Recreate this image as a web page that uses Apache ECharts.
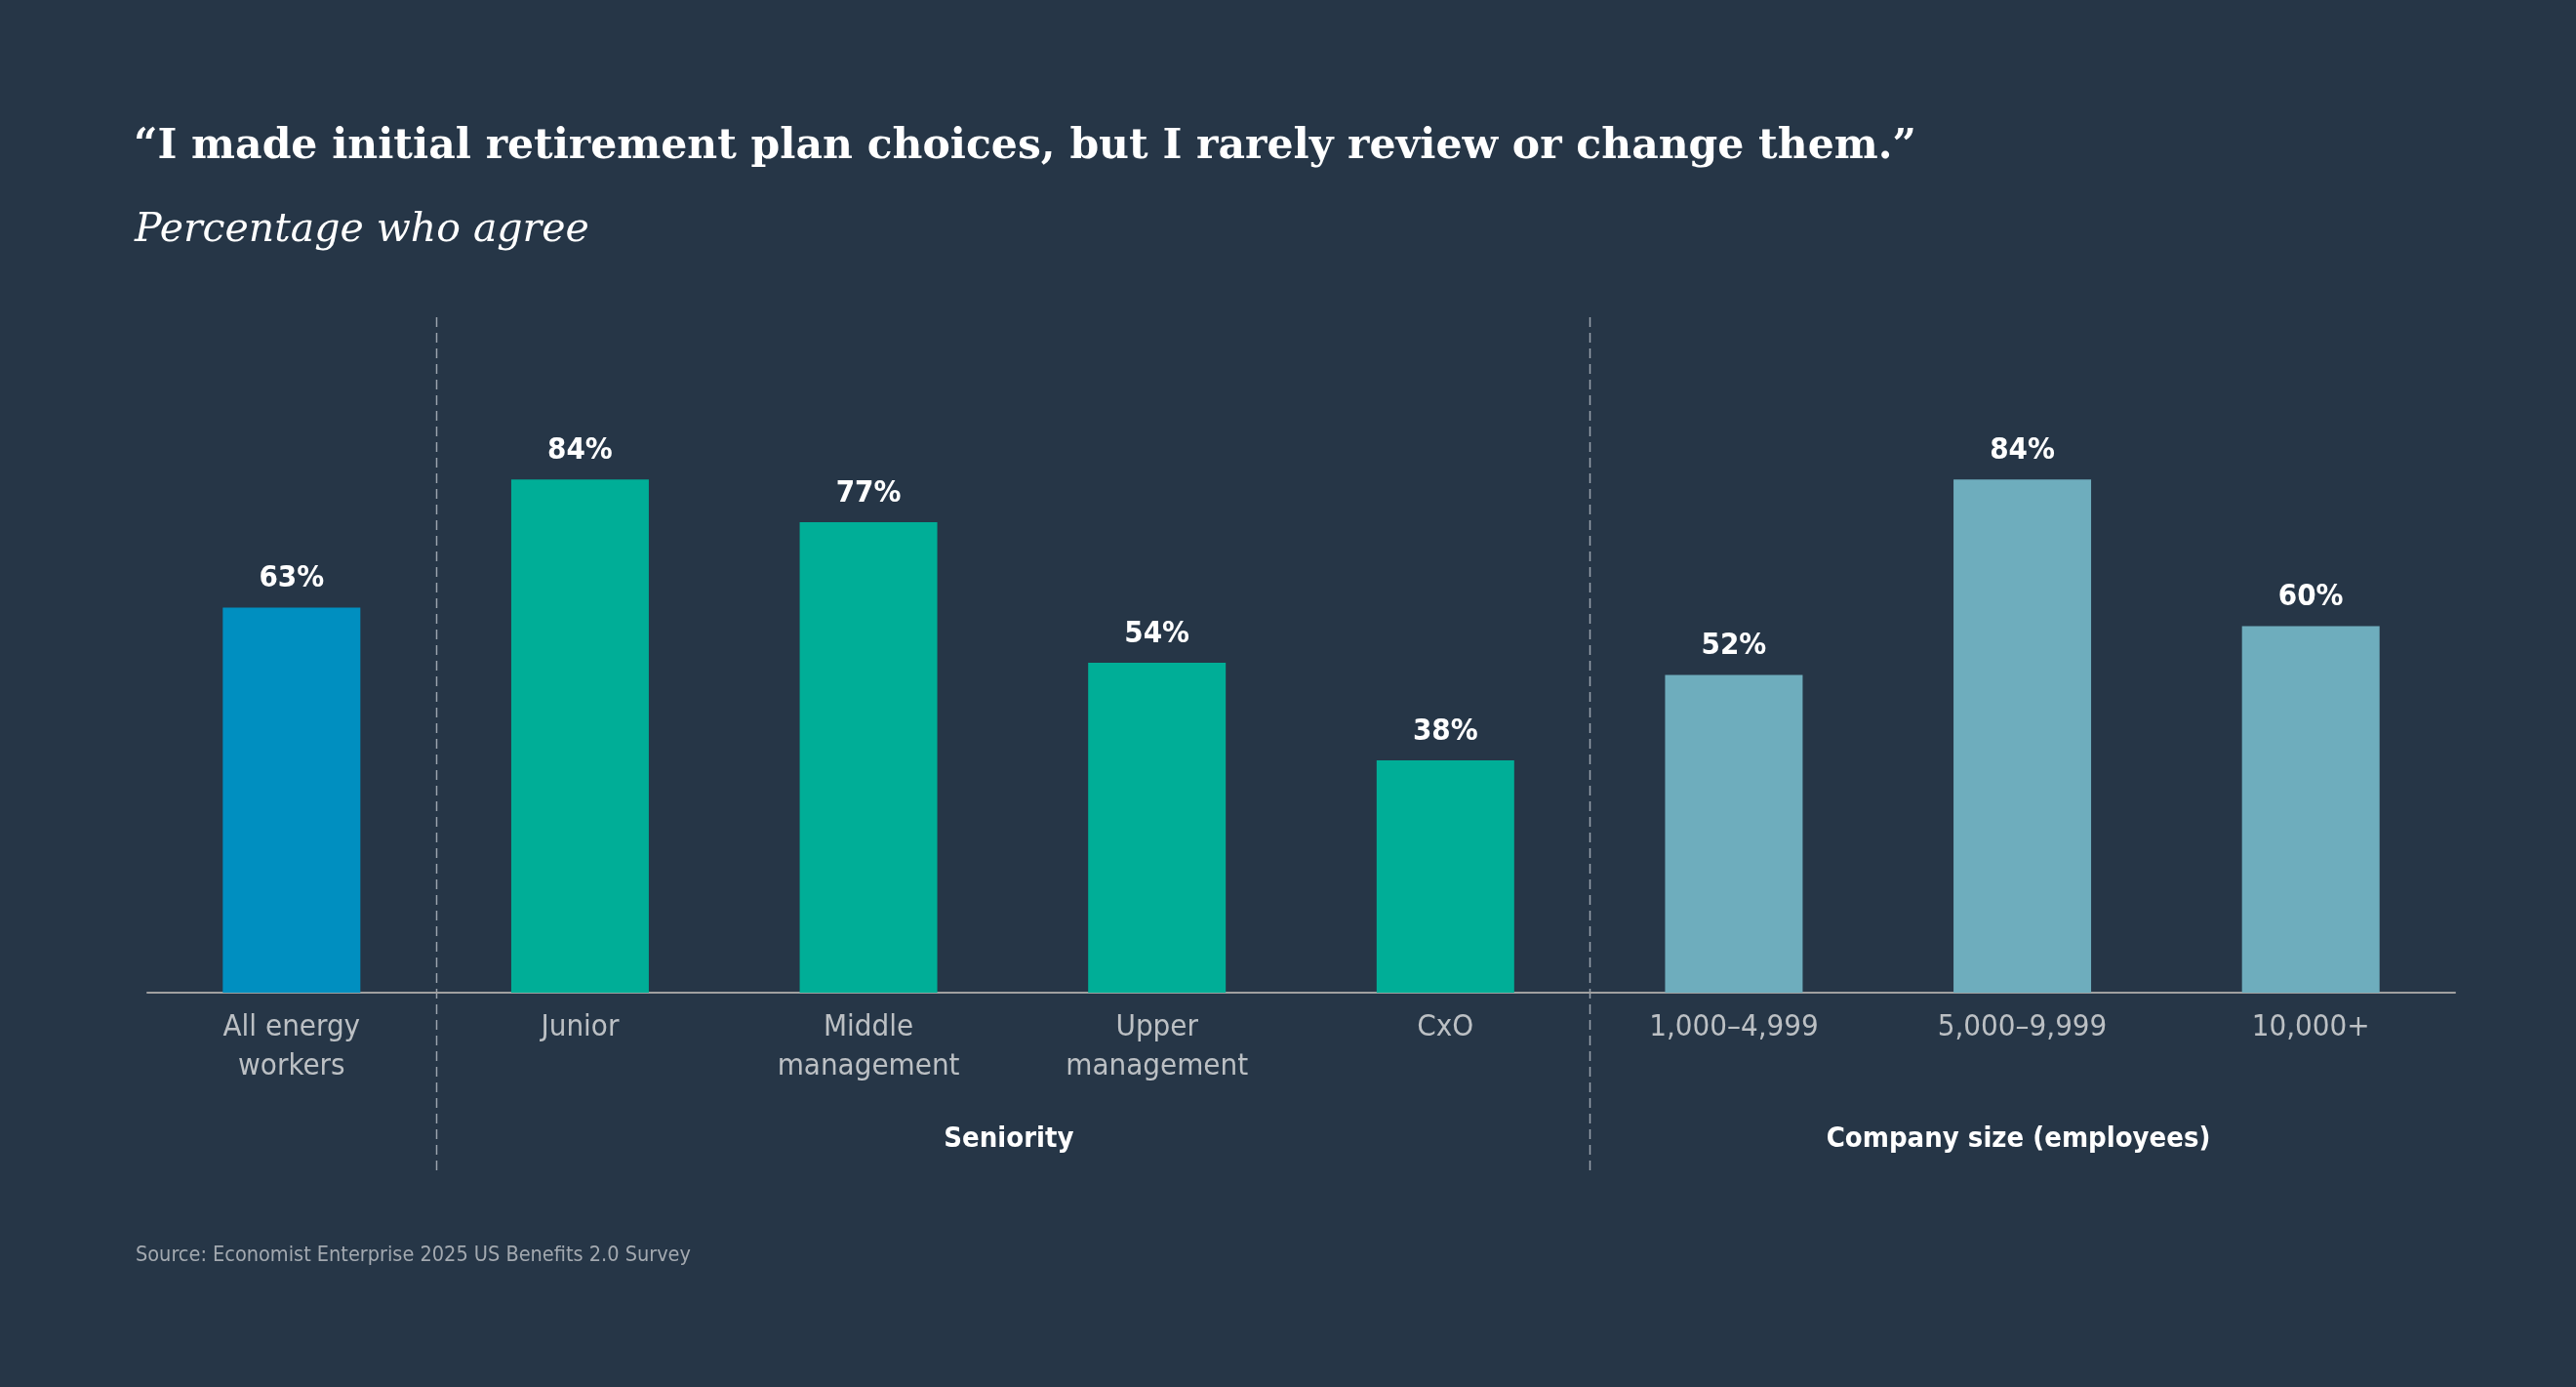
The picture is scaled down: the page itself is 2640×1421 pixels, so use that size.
<!DOCTYPE html>
<html>
<head>
    <meta charset="UTF-8">
    <title>Retirement plan choices</title>
    <style>
        html, body {
            height: 100%;
            margin: 0;
            padding: 0;
            background: #263647;
        }
        #chart-container {
            width: 100%;
            height: 100%;
        }
    </style>
</head>
<body>
<div id="chart-container"></div>

<script src="https://cdn.jsdelivr.net/npm/echarts@6/dist/echarts.min.js"></script>
<script>
    // data
    const categories = ['All energy\nworkers', 'Junior', 'Middle\nmanagement', 'Upper\nmanagement', 'CxO',
        '1,000–4,999', '5,000–9,999', '10,000+'];
    const values = [63, 84, 77, 54, 38, 52, 84, 60];
    const barColors = ['#008fc0', '#00ae97', '#00ae97', '#00ae97', '#00ae97', '#6eadbd', '#6eadbd', '#6eadbd'];

    // groups of categories (first index, last index)
    const groupNames = ['Seniority', 'Company size (employees)'];
    const groupFirst = [1, 5];
    const groupLast = [4, 7];

    const condensed = '"DejaVu Sans Condensed", "Liberation Sans Narrow", sans-serif';
    const serif = '"DejaVu Serif", "Liberation Serif", serif';

    const chart = echarts.init(document.getElementById('chart-container'));

    const option = {
        backgroundColor: '#263647',
        animation: false,
        title: [{
            text: '\u201cI made initial retirement plan choices, but I rarely review or change them.\u201d',
            left: 132,
            top: 119,
            textStyle: {
                color: '#ffffff',
                fontFamily: serif,
                fontWeight: 'bold',
                fontSize: 42.5,
                lineHeight: 54
            }
        }, {
            text: 'Percentage who agree',
            left: 133,
            top: 205,
            textStyle: {
                color: '#ffffff',
                fontFamily: serif,
                fontStyle: 'italic',
                fontWeight: 'normal',
                fontSize: 41,
                lineHeight: 52
            }
        }, {
            text: 'Source: Economist Enterprise 2025 US Benefits 2.0 Survey',
            left: 134,
            top: 1267,
            textStyle: {
                color: '#a3a9b0',
                fontFamily: condensed,
                fontWeight: 'normal',
                fontSize: 21.5,
                lineHeight: 28
            }
        }],
        grid: {
            left: 151,
            right: 124,
            top: 391,
            bottom: 1421 - 1017
        },
        xAxis: {
            type: 'category',
            data: categories,
            axisTick: { show: false },
            axisLine: { lineStyle: { color: '#a0a0a0', width: 2 } },
            axisLabel: {
                color: '#bcc0c4',
                fontFamily: condensed,
                fontSize: 31,
                lineHeight: 40,
                margin: 16
            }
        },
        yAxis: {
            type: 'value',
            min: 0,
            max: 100,
            show: false,
            splitLine: { show: false }
        },
        series: [{
            type: 'bar',
            barWidth: 141,
            data: values.map((v, i) => ({ value: v, itemStyle: { color: barColors[i] } })),
            label: {
                show: true,
                position: 'top',
                distance: 14,
                color: '#ffffff',
                fontFamily: condensed,
                fontWeight: 'bold',
                fontSize: 31,
                formatter: '{c}%'
            }
        }]
    };

    chart.setOption(option);

    // dividers and group captions placed from the category axis
    function drawGroups() {
        const c0 = chart.convertToPixel({ xAxisIndex: 0 }, 0);
        const c1 = chart.convertToPixel({ xAxisIndex: 0 }, 1);
        const band = c1 - c0;
        const elements = [];
        groupFirst.forEach(function (first, g) {
            const x = Math.round(chart.convertToPixel({ xAxisIndex: 0 }, first) - band / 2) + 0.5;
            elements.push({
                type: 'line',
                shape: { x1: x, y1: 325, x2: x, y2: 1200 },
                style: { stroke: '#9aa3ad', lineWidth: 1.5, lineDash: [10, 6] },
                silent: true
            });
            const mid = (chart.convertToPixel({ xAxisIndex: 0 }, first) +
                chart.convertToPixel({ xAxisIndex: 0 }, groupLast[g])) / 2;
            elements.push({
                type: 'text',
                x: mid - 4,
                y: 1167,
                style: {
                    text: groupNames[g],
                    fill: '#ffffff',
                    font: 'bold 29px ' + condensed,
                    textAlign: 'center',
                    textVerticalAlign: 'middle'
                },
                silent: true
            });
        });
        chart.setOption({ graphic: elements });
    }
    drawGroups();

    window.addEventListener('resize', function () {
        chart.resize();
        drawGroups();
    });
</script>
</body>
</html>
